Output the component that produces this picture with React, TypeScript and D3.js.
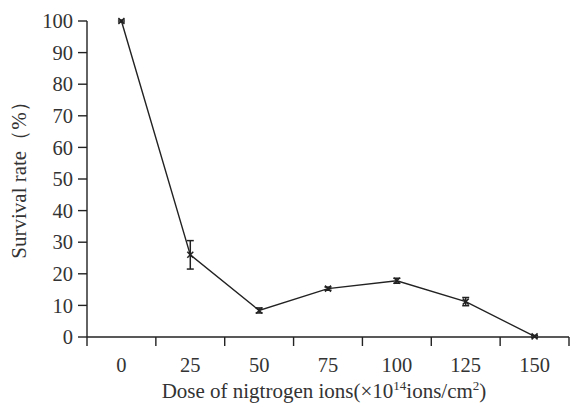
import React from 'react';
import * as d3 from 'd3';

const doses = ['0', '25', '50', '75', '100', '125', '150'];
const survival = [100, 26, 8.4, 15.3, 17.8, 11.2, 0.2];
const errors = [0.3, 4.5, 0.8, 0.5, 0.8, 1.3, 0.3];
const yTickValues = [0, 10, 20, 30, 40, 50, 60, 70, 80, 90, 100];

const W = 570;
const H = 405;
const margin = { top: 21, right: 1, bottom: 68, left: 87 };

const App = () => {
  const width = W - margin.left - margin.right;
  const height = H - margin.top - margin.bottom;

  const x = d3.scaleBand<string>().domain(doses).range([0, width]).padding(0);
  const y = d3.scaleLinear().domain([0, 100]).range([height, 0]);

  const line = d3.line<number>()
    .x((_, i) => x(doses[i])! + x.bandwidth() / 2)
    .y(d => y(d));

  const boundaries = doses.map(d => x(d)!).concat([width]).slice(1);

  return (
    <svg width={W} height={H} style={{ position: 'absolute', left: 0, top: 0, fontFamily: "'Liberation Serif', serif" }}>
      <g transform={`translate(${margin.left},${margin.top})`}>
        {/* y axis */}
        <line x1={0} x2={0} y1={0} y2={height + 9} stroke="#222" strokeWidth={1.4} />
        {yTickValues.map(t => (
          <g key={t} transform={`translate(0,${y(t)})`}>
            <line x1={-9} x2={0} stroke="#222" strokeWidth={1.4} />
            <text x={-14} dy="0.35em" textAnchor="end" fontSize={20.5} fill="#333">{t}</text>
          </g>
        ))}

        {/* x axis */}
        <line x1={0} x2={width} y1={height} y2={height} stroke="#222" strokeWidth={1.4} />
        {boundaries.map((b, i) => (
          <line key={i} x1={b} x2={b} y1={height} y2={height + 9} stroke="#222" strokeWidth={1.4} />
        ))}
        {doses.map(d => (
          <text key={d} x={x(d)! + x.bandwidth() / 2} y={height + 35} textAnchor="middle" fontSize={20.5} fill="#333">{d}</text>
        ))}

        {/* line */}
        <path d={line(survival) || ''} fill="none" stroke="#222" strokeWidth={1.4} />

        {/* error bars + markers */}
        {survival.map((v, i) => {
          const cx = x(doses[i])! + x.bandwidth() / 2;
          const cy = y(v);
          const top = y(v + errors[i]);
          const bot = y(v - errors[i]);
          return (
            <g key={i} stroke="#222" strokeWidth={1.5}>
              <line x1={cx} x2={cx} y1={top} y2={bot} />
              <line x1={cx - 3.5} x2={cx + 3.5} y1={top} y2={top} />
              <line x1={cx - 3.5} x2={cx + 3.5} y1={bot} y2={bot} />
              <line x1={cx - 3} x2={cx + 3} y1={cy - 3} y2={cy + 3} />
              <line x1={cx - 3} x2={cx + 3} y1={cy + 3} y2={cy - 3} />
            </g>
          );
        })}
      </g>

      {/* axis titles */}
      <text transform="translate(26,175) rotate(-90)" textAnchor="middle" fontSize={21} fill="#333">
        Survival rate（%）
      </text>
      <text x={324} y={398} textAnchor="middle" fontSize={21} fill="#333">
        Dose of nigtrogen ions(×10<tspan fontSize={13} dy={-8}>14</tspan><tspan dy={8}>ions/cm</tspan><tspan fontSize={13} dy={-8}>2</tspan><tspan dy={8}>)</tspan>
      </text>
    </svg>
  );
};

export default App;
